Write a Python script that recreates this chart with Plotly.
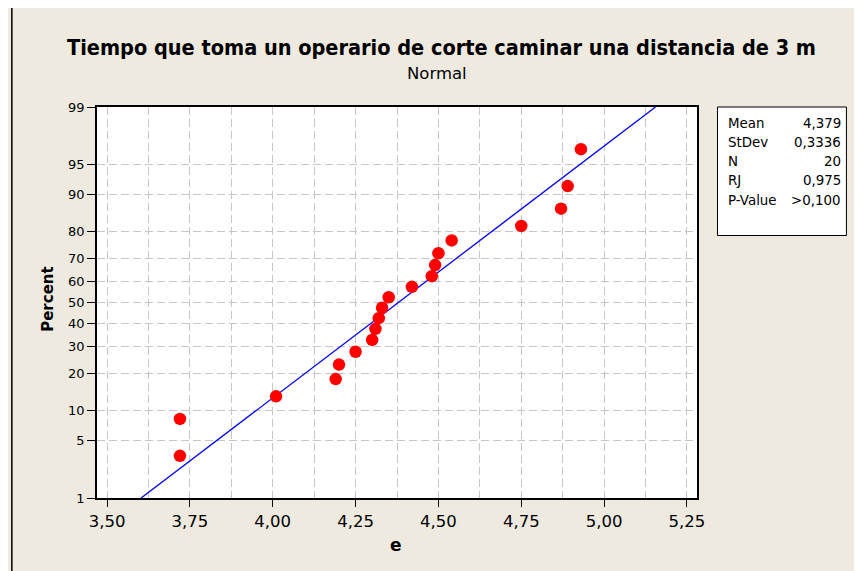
import plotly.graph_objects as go
from statistics import NormalDist

# ---- data ----
e_values = [3.72, 3.72, 4.01, 4.19, 4.20, 4.25, 4.30, 4.31, 4.32, 4.33,
            4.35, 4.42, 4.48, 4.49, 4.50, 4.54, 4.75, 4.87, 4.89, 4.93]
percent_values = [3.4, 8.3, 13.2, 18.1, 23.0, 27.9, 32.8, 37.7, 42.6, 47.5,
                  52.5, 57.4, 62.3, 67.2, 72.1, 77.0, 81.9, 86.8, 91.7, 96.6]
percent_ticks = [1, 5, 10, 20, 30, 40, 50, 60, 70, 80, 90, 95, 99]
x_ticks = [3.50, 3.75, 4.00, 4.25, 4.50, 4.75, 5.00, 5.25]
MEAN = 4.379
STDEV = 0.3336
stats_labels = ["Mean", "StDev", "N", "RJ", "P-Value"]
stats_values = ["4,379", "0,3336", "20", "0,975", ">0,100"]

nd = NormalDist()
def z(p):
    return nd.inv_cdf(p / 100.0)

FONT = "DejaVu Sans, sans-serif"
FONT_C = "DejaVu Sans Condensed, DejaVu Sans, sans-serif"
BG = "#EEEAE0"
GRID = "#C6C6C6"
DASH = "8px,4px"

OFF = 8  # page body margin
W, H = 862 - OFF, 571 - OFF
# window-pixel geometry of the plot area
L, R, T, B = 96.7, 697, 107, 498

def px(xw):
    return (xw - L) / (R - L)

def py(yw):
    return (B - yw) / (B - T)

fig = go.Figure()

# fitted normal line (from mean and stdev)
fit_p = [percent_ticks[0], percent_ticks[-1]]
fit_x = [MEAN + STDEV * z(p) for p in fit_p]
fit_y = [z(p) for p in fit_p]
fig.add_trace(go.Scatter(x=fit_x, y=fit_y, mode="lines",
                         line=dict(color="#0000FF", width=1.3),
                         hoverinfo="skip", showlegend=False))

fig.add_trace(go.Scatter(x=e_values, y=[z(p) for p in percent_values],
                         mode="markers",
                         marker=dict(color="#FF0000", size=12.5, line=dict(width=0)),
                         showlegend=False))

fig.update_layout(
    width=W, height=H,
    margin=dict(l=L - OFF, r=W - (R - OFF), t=T - OFF, b=H - (B - OFF), pad=0),
    paper_bgcolor=BG, plot_bgcolor="white",
    separators=",.",
    font=dict(family=FONT, size=14, color="black"),
    xaxis=dict(range=[3.4698, 5.2802], tickvals=x_ticks, tickformat=".2f",
               ticks="outside", ticklen=7, tickcolor="black", tickwidth=1,
               tickfont=dict(size=16.5),
               showline=True, linecolor="black", linewidth=1.5, mirror=True,
               zeroline=False,
               showgrid=True, gridcolor=GRID, griddash=DASH, gridwidth=1.3,
               minor=dict(dtick=0.125, tick0=3.5, showgrid=True, gridcolor=GRID,
                          griddash=DASH, gridwidth=1.3, ticks="")),
    yaxis=dict(range=[z(1), z(99)], tickvals=[z(p) for p in percent_ticks],
               ticktext=[str(p) for p in percent_ticks],
               ticks="outside", ticklen=8, tickcolor="black", tickwidth=1,
               tickfont=dict(size=13),
               showline=True, linecolor="black", linewidth=1.5, mirror=True,
               zeroline=False,
               showgrid=True, gridcolor=GRID, griddash=DASH, gridwidth=1.3),
)

shapes = [
    # outer frame
    dict(type="rect", xref="paper", yref="paper",
         x0=px(11.5), x1=px(900), y0=py(600), y1=py(6.5),
         line=dict(color="black", width=1.5), fillcolor="rgba(0,0,0,0)", layer="below"),
    # stats box
    dict(type="rect", xref="paper", yref="paper",
         x0=px(717.5), x1=px(846.5), y0=py(235.5), y1=py(107),
         line=dict(color="black", width=1), fillcolor="white"),
]
fig.update_layout(shapes=shapes)

ann = [
    dict(text="<b>Tiempo que toma un operario de corte caminar una distancia de 3 m</b>",
         x=px(441), y=py(48), xref="paper", yref="paper", showarrow=False,
         font=dict(size=21.5, family=FONT_C), xanchor="center", yanchor="middle"),
    dict(text="Normal", x=px(437), y=py(73), xref="paper", yref="paper",
         showarrow=False, font=dict(size=16.5, family=FONT),
         xanchor="center", yanchor="middle"),
    dict(text="<b>Percent</b>", x=px(47.5), y=py(299), xref="paper", yref="paper",
         showarrow=False, textangle=-90, font=dict(size=15, family=FONT),
         xanchor="center", yanchor="middle"),
    dict(text="<b>e</b>", x=px(396), y=py(545), xref="paper", yref="paper",
         showarrow=False, font=dict(size=17, family=FONT),
         xanchor="center", yanchor="middle"),
]
row0, rowstep = 123.3, 19.2
for i, (lab, val) in enumerate(zip(stats_labels, stats_values)):
    yy = py(row0 + i * rowstep)
    ann.append(dict(text=lab, x=px(726), y=yy, xref="paper", yref="paper",
                    showarrow=False, xanchor="left", yanchor="middle",
                    font=dict(size=13.4, family=FONT)))
    ann.append(dict(text=val, x=px(843), y=yy, xref="paper", yref="paper",
                    showarrow=False, xanchor="right", yanchor="middle",
                    font=dict(size=13.4, family=FONT)))
fig.update_layout(annotations=ann)

fig.write_html("out.html")
